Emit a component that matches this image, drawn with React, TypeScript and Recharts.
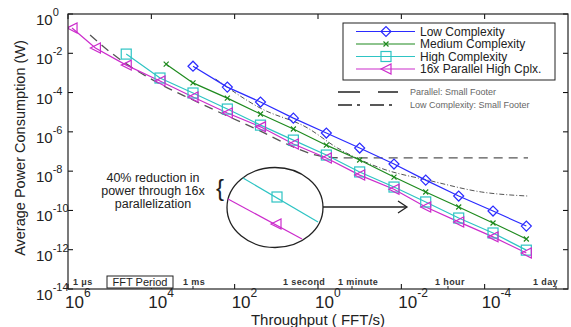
import { LineChart, Line, XAxis, YAxis } from 'recharts';

// throughput (FFT/s) shared by the marker series
const throughput = [8e5, 2.2e5, 4e4, 6.2e3, 1e3, 150, 24, 3.9, 0.63, 0.1, 0.015, 2.6e-3, 4.2e-4, 6.3e-5, 1e-5];

const lowX = throughput.slice(4);
const lowPower = [2.2e-3, 1.9e-4, 3.3e-5, 5.0e-6, 8.7e-7, 1.5e-7, 2.3e-8, 3.5e-9, 5.4e-10, 9.3e-11, 1.6e-11];

const mediumX = [4.4e3, ...throughput.slice(4)];
const mediumPower = [2.8e-3, 3.1e-4, 5.2e-5, 8.1e-6, 1.4e-6, 2.1e-7, 3.7e-8, 5.0e-9, 8.7e-10, 1.5e-10, 2.3e-11, 3.5e-12];

const highX = throughput.slice(2);
const highPower = [9.1e-3, 5.5e-4, 9.5e-5, 1.45e-5, 2.2e-6, 3.8e-7, 6.6e-8, 9.1e-9, 1.55e-9, 2.7e-10, 4.1e-11, 7.1e-12, 9.5e-13];

const parallelX = throughput;
const parallelPower = [0.195, 0.0186, 2.5e-3, 3.9e-4, 5.9e-5, 9.1e-6, 1.8e-6, 2.4e-7, 4.7e-8, 6.3e-9, 1.2e-9, 1.5e-10, 2.6e-11, 4.5e-12, 6.8e-13];

// small footer curves
const parFooterX = [2.95e5, 9.8e4, 6.2e3, 1e3, 151, 24, 3.9, 0.87, 0.22, 9.1e-6];
const parFooterPower = [0.085, 0.0117, 2.75e-4, 4.2e-5, 6.5e-6, 1.1e-6, 1.7e-7, 5.9e-8, 4.7e-8, 4.7e-8];

const lowFooterX = [288, 24, 1.8, 0.34, 0.032, 1.95e-3, 1.2e-4, 9.1e-6];
const lowFooterPower = [4.9e-4, 1.6e-5, 1.6e-6, 1.5e-7, 1.45e-8, 3.2e-9, 8.7e-10, 5.4e-10];

const xTicks = [1e-6, 1e-4, 1e-2, 1, 1e2, 1e4, 1e6];
const yTicks = [1e-14, 1e-12, 1e-10, 1e-8, 1e-6, 1e-4, 1e-2, 1];

const legendNames = ['Low Complexity', 'Medium Complexity', 'High Complexity', '16x Parallel High Cplx.'];
const footerNames = ['Parallel: Small Footer', 'Low Complexity: Small Footer'];
const periodLabels = ['1 μs', '1 ms', '1 second', '1 minute', '1 hour', '1 day'];
const noteLines = ['40% reduction in', 'power through 16x', 'parallelization'];

const W = 571;
const H = 327;
const TOP = 14;
const BOTTOM = 289;
const LEFT = 68;
const RIGHT = 568;
const FONT = '"Liberation Sans", Arial, sans-serif';

const BLUE = '#2b2bff';
const GREEN = '#1e8a1e';
const CYAN = '#2ec4c4';
const MAGENTA = '#cc2ccc';

const toPoints = (xs: number[], ys: number[]) => xs.map((x, i) => ({ x, y: ys[i] }));

const Diamond = ({ cx, cy, c }: any) => (
  <path d={`M${cx - 5},${cy} L${cx},${cy - 5} L${cx + 5},${cy} L${cx},${cy + 5} Z`} fill="none" stroke={c} strokeWidth={1.2} />
);
const Cross = ({ cx, cy, c }: any) => (
  <path d={`M${cx - 2.5},${cy - 2.5} L${cx + 2.5},${cy + 2.5} M${cx - 2.5},${cy + 2.5} L${cx + 2.5},${cy - 2.5}`} stroke={c} strokeWidth={1.2} />
);
const Square = ({ cx, cy, c }: any) => (
  <rect x={cx - 5} y={cy - 5} width={10} height={10} fill="none" stroke={c} strokeWidth={1.2} />
);
const Triangle = ({ cx, cy, c }: any) => (
  <path d={`M${cx - 5},${cy} L${cx + 5},${cy - 5} L${cx + 5},${cy + 5} Z`} fill="none" stroke={c} strokeWidth={1.2} />
);

const XTick = ({ x, payload }: any) => {
  const e = Math.round(Math.log10(payload.value));
  return (
    <g>
      <line x1={x} y1={BOTTOM} x2={x} y2={BOTTOM - 5} stroke="#000" />
      <line x1={x} y1={TOP} x2={x} y2={TOP + 5} stroke="#000" />
      <text x={x - 3} y={BOTTOM + 19} fontSize={17} fontFamily={FONT} fill="#222">
        10<tspan dy={-11} fontSize={12}>{e}</tspan>
      </text>
    </g>
  );
};

const YTick = ({ y, payload }: any) => {
  const e = Math.round(Math.log10(payload.value));
  return (
    <g>
      <line x1={LEFT} y1={y} x2={LEFT + 5} y2={y} stroke="#000" />
      <line x1={RIGHT} y1={y} x2={RIGHT - 5} y2={y} stroke="#000" />
      <text x={36} y={y + 11} fontSize={15} fontFamily={FONT} fill="#222">
        10<tspan dy={-9} fontSize={11}>{e}</tspan>
      </text>
    </g>
  );
};

const Overlay = () => {
  const rows = [31.5, 44, 56.5, 69];
  const markers = [Diamond, Cross, Square, Triangle];
  const colors = [BLUE, GREEN, CYAN, MAGENTA];
  const periodX = [73, 183, 283, 338, 435, 533];
  const periodTicks = [193, 352, 448, 556];
  return (
    <svg width={W} height={H} style={{ position: 'absolute', left: 0, top: 0, pointerEvents: 'none' }}>
      {/* main legend */}
      <rect x={343} y={23} width={212} height={57} fill="#fff" stroke="#222" strokeWidth={1} />
      {legendNames.map((n, i) => {
        const M = markers[i];
        return (
          <g key={n}>
            <line x1={356} y1={rows[i]} x2={415} y2={rows[i]} stroke={colors[i]} strokeWidth={1.2} />
            <M cx={386} cy={rows[i]} c={colors[i]} />
            <text x={420} y={rows[i] + 4.3} fontSize={12} fontFamily={FONT} fill="#222">{n}</text>
          </g>
        );
      })}
      {/* footer legend */}
      <line x1={338} y1={92} x2={398} y2={92} stroke="#222" strokeWidth={1.3} strokeDasharray="22 18" />
      <text x={410} y={95} fontSize={9} fontFamily={FONT} fill="#666">{footerNames[0]}</text>
      <line x1={338} y1={105} x2={398} y2={105} stroke="#222" strokeWidth={1.3} strokeDasharray="14 5 3 10" />
      <text x={410} y={108} fontSize={9} fontFamily={FONT} fill="#666">{footerNames[1]}</text>

      {/* annotation */}
      {noteLines.map((t, i) => (
        <text key={t} x={153} y={182 + i * 13} textAnchor="middle" fontSize={12.5} fontFamily={FONT} fill="#222">{t}</text>
      ))}
      <text x={220} y={196} textAnchor="middle" fontSize={24} fontFamily={FONT} fill="#222">{'{'}</text>
      <ellipse cx={275} cy={207.5} rx={48} ry={40} fill="#fff" stroke="#222" strokeWidth={1.3} />
      <line x1={243} y1={178} x2={318} y2={222} stroke={CYAN} strokeWidth={1.2} />
      <Square cx={277} cy={197} c={CYAN} />
      <line x1={228} y1={199} x2={302} y2={239} stroke={MAGENTA} strokeWidth={1.2} />
      <Triangle cx={276} cy={224} c={MAGENTA} />
      <line x1={323} y1={207} x2={406} y2={207} stroke="#222" strokeWidth={1.3} />
      <path d="M398,201 L407,207 L398,213" fill="none" stroke="#222" strokeWidth={1.3} />

      {/* fft period labels */}
      {periodLabels.map((t, i) => (
        <text key={t} x={periodX[i]} y={285} fontSize={9} fontWeight="bold" fontFamily={FONT} fill="#333" letterSpacing={0.4}>{t}</text>
      ))}
      {periodTicks.map((px) => (
        <line key={px} x1={px} y1={BOTTOM} x2={px} y2={BOTTOM - 3} stroke="#222" />
      ))}
      <rect x={107} y={276} width={66} height={12} fill="#fff" stroke="#222" strokeWidth={1} />
      <text x={140} y={286} textAnchor="middle" fontSize={11} fontFamily={FONT} fill="#222">FFT Period</text>

      {/* frame */}
      <rect x={LEFT} y={TOP} width={RIGHT - LEFT} height={BOTTOM - TOP} fill="none" stroke="#222" strokeWidth={1.2} />

      {/* axis titles */}
      <text x={318} y={325} textAnchor="middle" fontSize={15} fontFamily={FONT} fill="#222">Throughput ( FFT/s)</text>
      <text x={25} y={148} textAnchor="middle" fontSize={14.5} fontFamily={FONT} fill="#222" transform="rotate(-90 25 148)">
        Average Power Consumption (W)
      </text>
    </svg>
  );
};

export default function App() {
  const series = [
    { key: 'low', data: toPoints(lowX, lowPower), color: BLUE, M: Diamond },
    { key: 'medium', data: toPoints(mediumX, mediumPower), color: GREEN, M: Cross },
    { key: 'high', data: toPoints(highX, highPower), color: CYAN, M: Square },
    { key: 'parallel', data: toPoints(parallelX, parallelPower), color: MAGENTA, M: Triangle },
  ];
  return (
    <div style={{ position: 'absolute', left: 0, top: 0, width: W, height: H, background: '#fff' }}>
      <LineChart width={W} height={H} margin={{ top: TOP, right: W - RIGHT, bottom: 0, left: 8 }}>
        <XAxis
          dataKey="x"
          type="number"
          scale="log"
          domain={[1e-6, 1e6]}
          allowDataOverflow
          reversed
          ticks={xTicks}
          tick={<XTick />}
          tickSize={0}
          tickMargin={0}
          tickLine={false}
          axisLine={false}
          height={H - BOTTOM}
        />
        <YAxis
          dataKey="y"
          type="number"
          scale="log"
          domain={[1e-14, 1]}
          allowDataOverflow
          ticks={yTicks}
          tick={<YTick />}
          tickSize={0}
          tickMargin={0}
          tickLine={false}
          axisLine={false}
          width={LEFT - 8}
        />
        <Line
          data={toPoints(parFooterX, parFooterPower)}
          dataKey="y"
          type="monotone"
          stroke="#555"
          strokeWidth={1.3}
          strokeDasharray="9 6"
          dot={false}
          activeDot={false}
          isAnimationActive={false}
        />
        <Line
          data={toPoints(lowFooterX, lowFooterPower)}
          dataKey="y"
          type="monotone"
          stroke="#555"
          strokeWidth={1}
          strokeDasharray="5 2 1 2"
          dot={false}
          activeDot={false}
          isAnimationActive={false}
        />
        {series.map((s) => (
          <Line
            key={s.key}
            data={s.data}
            dataKey="y"
            type="linear"
            stroke={s.color}
            strokeWidth={1.2}
            dot={(p: any) => <s.M key={`${s.key}-${p.index}`} cx={p.cx} cy={p.cy} c={s.color} />}
            activeDot={false}
            isAnimationActive={false}
          />
        ))}
      </LineChart>
      <Overlay />
    </div>
  );
}
